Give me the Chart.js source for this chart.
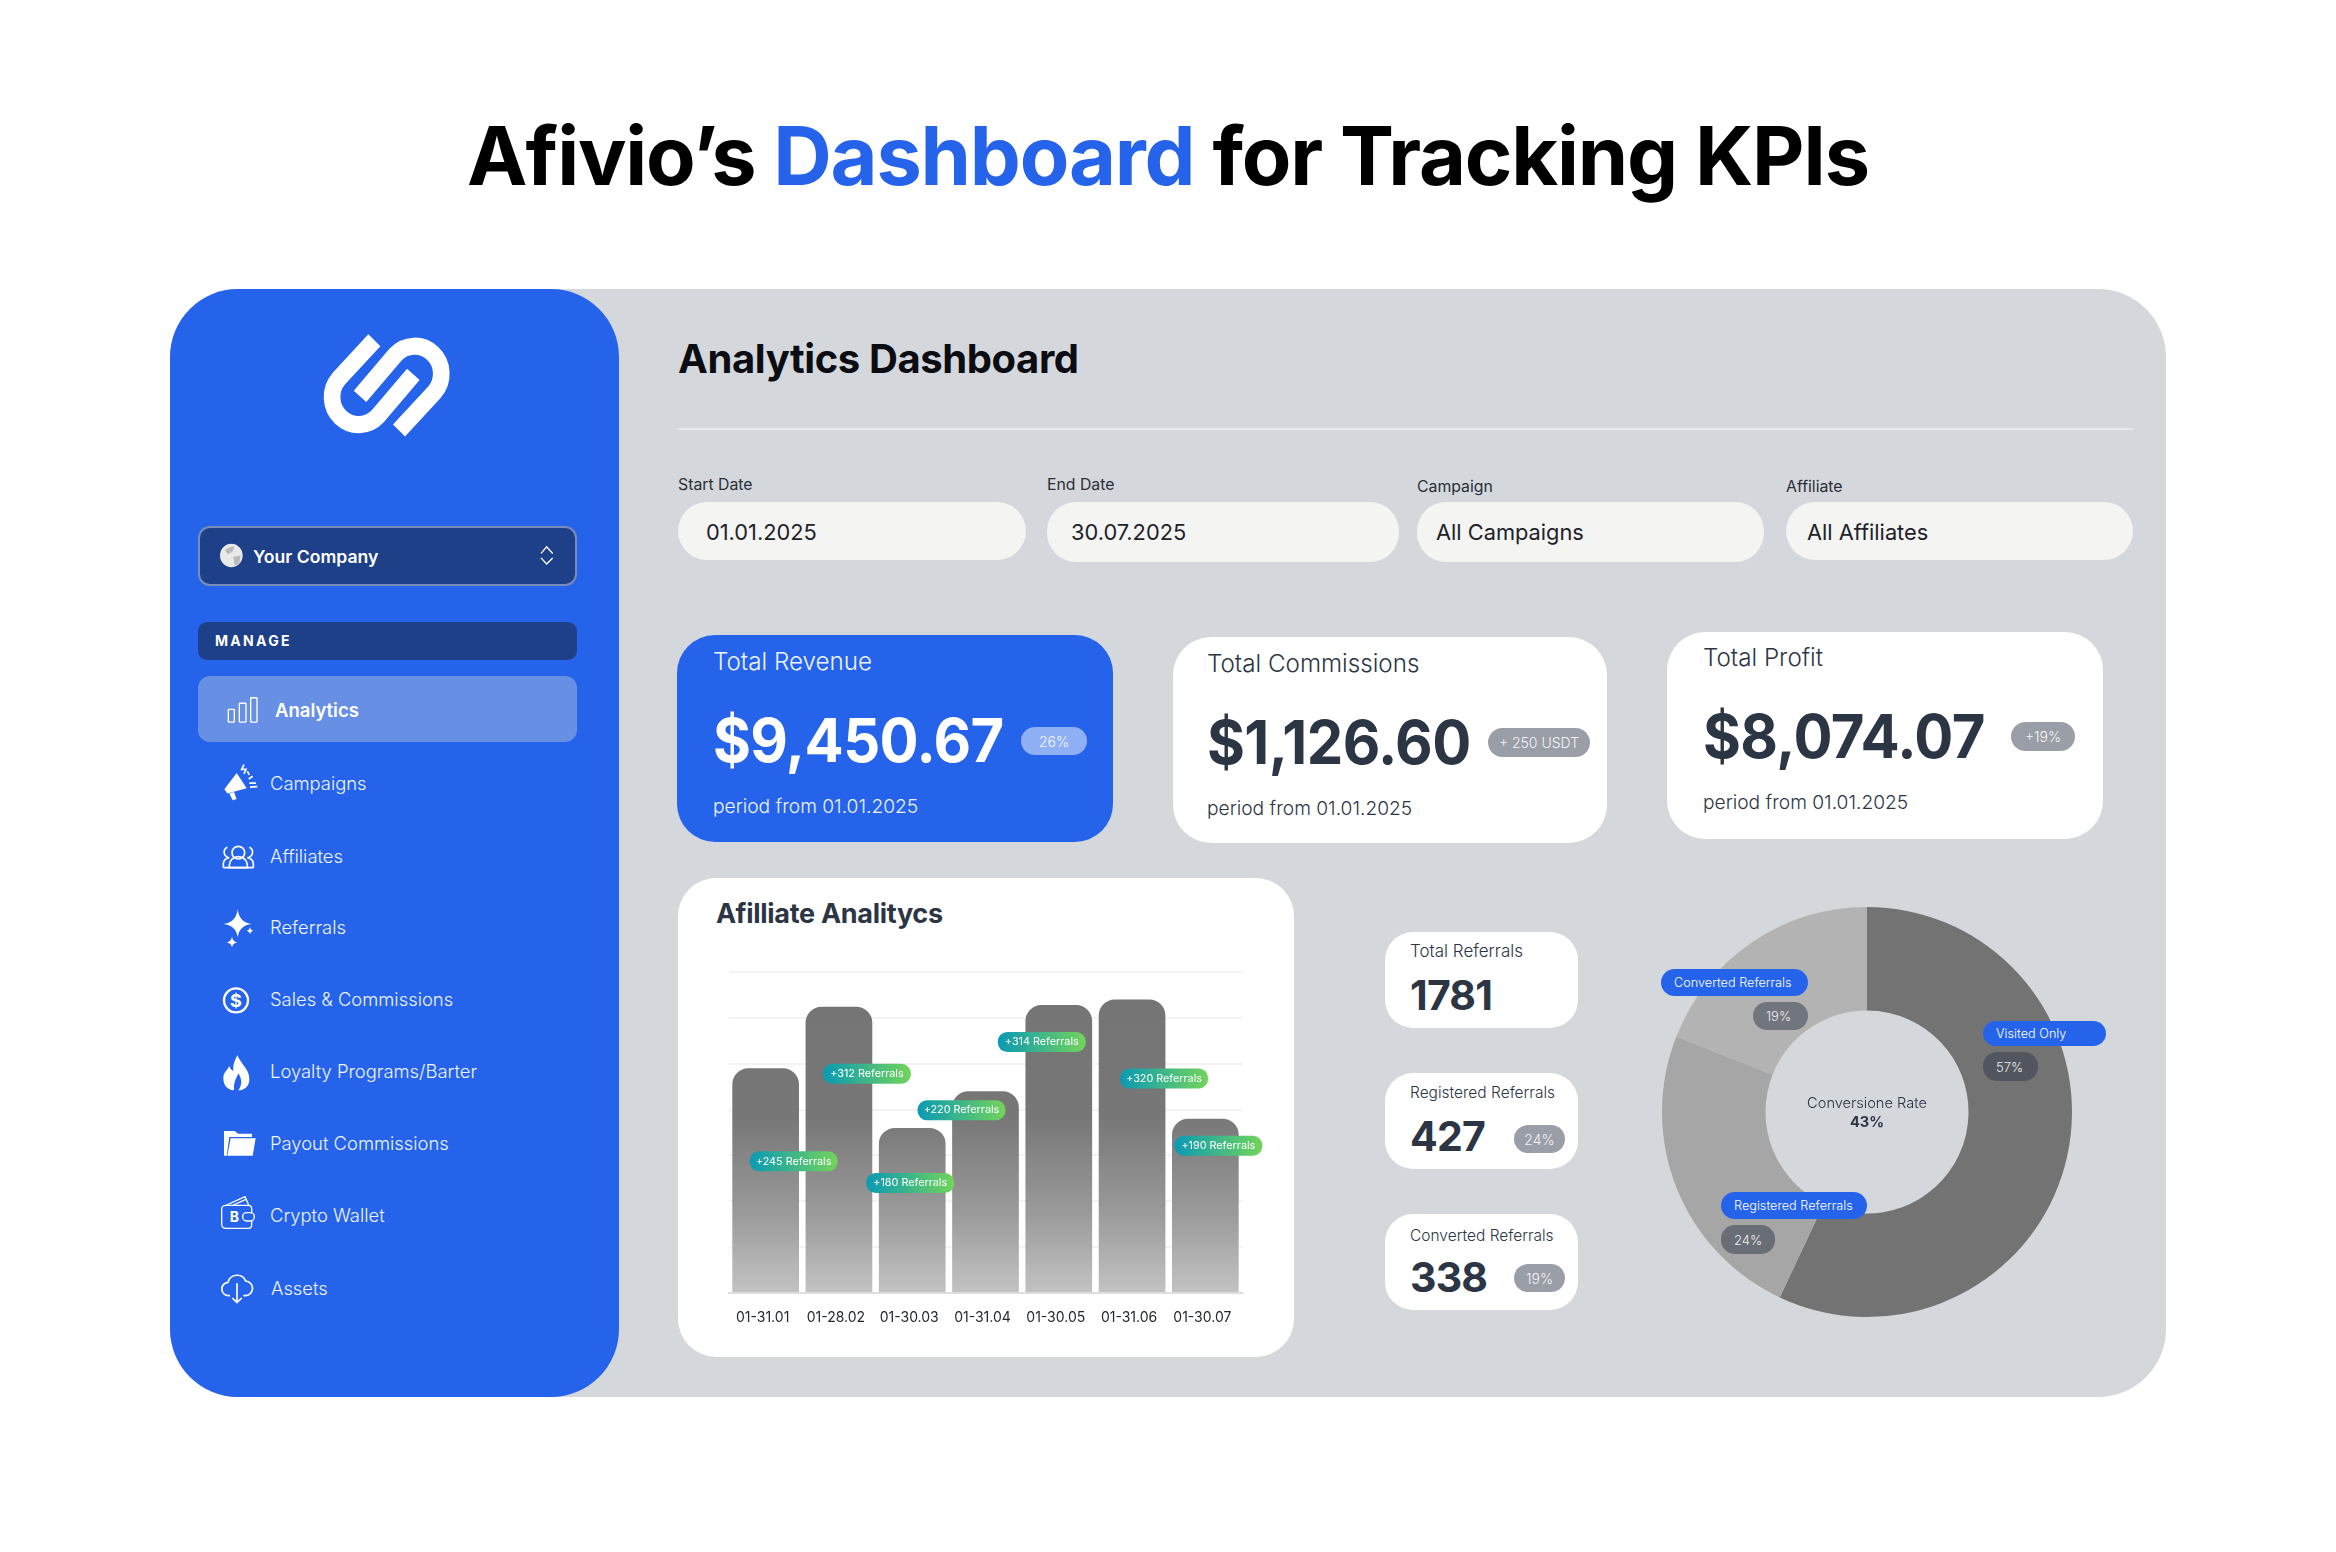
<!DOCTYPE html>
<html>
<head>
<meta charset="utf-8">
<title>Afivio Dashboard</title>
<script src="https://cdn.jsdelivr.net/npm/chart.js@4"></script>
<style>
html, body { margin: 0; padding: 0; background: #fff; }
body { position: relative; width: 2336px; height: 1552px; overflow: hidden; font-family: Inter, "Noto Sans", sans-serif; }
.box { position: absolute; box-sizing: border-box; }
.t { position: absolute; white-space: nowrap; transform: translateY(-50%); }
.c { transform: translate(-50%, -50%); }
h1 { position: absolute; left: 0; width: 2336px; top: 156px; margin: 0; transform: translateY(-50%); text-align: center; font-size: 81px; font-weight: 700; letter-spacing: -1.2px; color: #000; white-space: nowrap; }
h1 span { color: #2563eb; }
.nav { font-size: 18.4px; font-weight: 300; color: #eef3ff; left: 270px; }
.label { font-size: 15.8px; color: #2a2f38; }
.input { background: #f4f4f2; border-radius: 29px; }
.val { font-size: 21.8px; color: #1e2229; }
.card { background: #fff; border-radius: 38px; }
.blue { background: #2563eb; }
.ktitle { font-size: 24.2px; font-weight: 300; color: #2b3544; }
.amount { font-size: 61px; font-weight: 700; color: #2b3544; letter-spacing: -0.6px; transform: translateY(-50%) scaleX(.95); transform-origin: left center; }
.period { font-size: 19.2px; font-weight: 300; color: #2b3544; }
.badge { background: #9a9ea6; border-radius: 15px; color: #f3f4f6; font-size: 14px; font-weight: 300; display: flex; align-items: center; justify-content: center; white-space: nowrap; }
.mini { background: #fff; border-radius: 28px; }
.mlabel { font-size: 15.5px; font-weight: 300; color: #2b3544; left: 1410px; }
.mnum { font-size: 41px; font-weight: 700; color: #2b3544; left: 1410px; letter-spacing: -0.8px; }
.tag { background: #2563eb; border-radius: 14px; color: #fff; font-size: 12.7px; font-weight: 300; display: flex; align-items: center; padding-left: 13px; white-space: nowrap; z-index: 3; }
.pct { border-radius: 14px; color: #eceef1; font-size: 13px; font-weight: 300; display: flex; align-items: center; padding-left: 13px; z-index: 3; }
canvas { position: absolute; display: block; }
</style>
</head>
<body>
<h1>Afivio’s <span>Dashboard</span> for Tracking KPIs</h1>

<div class="box" style="left:170px;top:289px;width:1996px;height:1108px;background:#d4d7dc;border-radius:68px"></div>
<div class="box" style="left:170px;top:289px;width:449px;height:1108px;background:#2563eb;border-radius:68px"></div>

<div class="box" style="left:198px;top:526px;width:379px;height:60px;background:#1e4088;border:2px solid rgba(255,255,255,.4);border-radius:12px"></div>
<div class="t" style="left:253px;top:556px;font-size:17.6px;font-weight:600;color:#fff">Your Company</div>
<div class="box" style="left:198px;top:622px;width:379px;height:38px;background:#1e4088;border-radius:9px"></div>
<div class="t" style="left:215px;top:640px;font-size:14px;font-weight:700;letter-spacing:2.3px;color:#fff">MANAGE</div>
<div class="box" style="left:198px;top:676px;width:379px;height:66px;background:#6790e4;border-radius:12px"></div>
<div class="t" style="left:275px;top:710px;font-size:18.5px;font-weight:600;color:#fff">Analytics</div>
<div class="t nav" style="top:783px">Campaigns</div>
<div class="t nav" style="top:856px">Affiliates</div>
<div class="t nav" style="top:927px">Referrals</div>
<div class="t nav" style="top:999px">Sales &amp; Commissions</div>
<div class="t nav" style="top:1071px">Loyalty Programs/Barter</div>
<div class="t nav" style="top:1143px">Payout Commissions</div>
<div class="t nav" style="top:1215px">Crypto Wallet</div>
<div class="t nav" style="top:1288px;left:271px">Assets</div>

<!-- logo and sidebar icons, one svg unit = 1/3 px -->
<svg class="box" style="left:170px;top:290px" width="460" height="1040" viewBox="0 0 1380 3120">
  <g transform="scale(1 1.033)">
    <g fill="none" stroke="#fff" stroke-width="50">
      <path d="M613 146 L506 258 A80 80 0 0 0 624 366 L730 245"/>
      <path d="M687 408 L794 296 A80 80 0 0 0 676 188 L570 309"/>
    </g>
    <circle cx="184" cy="771" r="34" fill="#e9e9e9"/>
    <path d="M165 755 q14 -12 28 -10 l-6 16 l-14 6 z M190 775 l22 -4 l-4 22 l-14 8 z" fill="#b9b9b9"/>
    <g fill="none" stroke="#fff" stroke-width="4">
      <path d="M1113 765 L1130 746 L1148 765 M1113 778 L1130 796 L1148 778"/>
      <rect x="175" y="1218" width="18" height="37" rx="2"/>
      <rect x="208" y="1200" width="20" height="55" rx="2"/>
      <rect x="242" y="1184" width="19" height="71" rx="2"/>
    </g>
    <!-- megaphone -->
    <path d="M163 1450 L200 1403 L230 1447 L172 1462 Z M178 1462 L192 1458 L200 1478 L188 1482 Z" fill="#fff"/>
    <g stroke="#fff" stroke-width="5" fill="none">
      <path d="M222 1378 L215 1392 L228 1392 L222 1405 M232 1398 L238 1408 M236 1420 L248 1412 M238 1432 L258 1432 M240 1444 L262 1442"/>
    </g>
  </g>
  <g transform="translate(0 1620)">
    <!-- people -->
    <g fill="none" stroke="#fff" stroke-width="5">
      <circle cx="205" cy="68" r="19"/>
      <path d="M172 52 a16 16 0 0 0 2 30 M238 52 a16 16 0 0 1 -2 30"/>
      <path d="M178 113 v-8 a27 25 0 0 1 54 0 v8 z"/>
      <path d="M160 113 v-12 a20 18 0 0 1 18 -18 M250 113 v-12 a20 18 0 0 0 -18 -18 M160 113 h90"/>
    </g>
    <!-- stars -->
    <path d="M203 238 Q208 278 245 282 Q208 286 203 322 Q198 286 160 282 Q198 278 203 238 Z" fill="#fff"/>
    <path d="M240 290 Q241 300 250 302 Q241 304 240 312 Q239 304 230 302 Q239 300 240 290 Z" fill="#fff"/>
    <path d="M186 320 Q188 334 202 337 Q188 340 186 352 Q184 340 170 337 Q184 334 186 320 Z" fill="#fff"/>
    <!-- dollar -->
    <circle cx="198" cy="511" r="36" fill="none" stroke="#fff" stroke-width="7"/>
    <text x="198" y="530" text-anchor="middle" font-family="Inter" font-size="54" font-weight="700" fill="#fff">$</text>
    <!-- flame -->
    <path d="M202 676 C215 705 240 720 238 750 C237 770 222 781 205 781 C218 765 215 745 205 730 C200 745 190 755 192 781 C172 780 160 765 160 745 C160 725 172 722 178 708 C182 720 188 722 190 722 C188 705 195 690 202 676 Z" fill="#fff"/>
    <!-- folder -->
    <path d="M162 903 h32 l10 8 h42 v10 h-68 l-8 56 h-8 z" fill="#fff"/>
    <path d="M182 925 h75 l-9 52 h-76 z" fill="#fff"/>
    <!-- wallet -->
    <g fill="none" stroke="#fff" stroke-width="4">
      <path d="M245 1148 v-12 a10 10 0 0 0 -10 -10 h-68 a12 12 0 0 0 -12 12 v45 a12 12 0 0 0 12 12 h68 a10 10 0 0 0 10 -10 v-12"/>
      <rect x="218" y="1148" width="35" height="25" rx="12"/>
      <path d="M170 1125 L225 1100 L236 1125 M190 1125 L228 1108"/>
    </g>
    <text x="193" y="1176" text-anchor="middle" font-family="Inter" font-size="42" font-weight="700" fill="#fff">B</text>
    <!-- cloud -->
    <g fill="none" stroke="#fff" stroke-width="5">
      <path d="M180 1397 h-3 a20 20 0 0 1 -3 -40 a28 28 0 0 1 53 -4 a22 22 0 0 1 -3 44 h-4"/>
      <path d="M201 1360 V1418 M187 1404 L201 1418 L215 1404"/>
    </g>
  </g>
</svg>

<div class="t" style="left:678px;top:358px;font-size:40px;font-weight:700;color:#0b0d12;letter-spacing:-0.4px">Analytics Dashboard</div>
<div class="box" style="left:678px;top:428px;width:1455px;height:2px;background:#e7e9ec"></div>

<div class="t label" style="left:678px;top:484px">Start Date</div>
<div class="t label" style="left:1047px;top:484px">End Date</div>
<div class="t label" style="left:1417px;top:486px">Campaign</div>
<div class="t label" style="left:1786px;top:486px">Affiliate</div>
<div class="box input" style="left:678px;top:502px;width:348px;height:58px"></div>
<div class="box input" style="left:1047px;top:502px;width:352px;height:60px"></div>
<div class="box input" style="left:1417px;top:502px;width:347px;height:60px"></div>
<div class="box input" style="left:1786px;top:502px;width:347px;height:58px"></div>
<div class="t val" style="left:706px;top:532px">01.01.2025</div>
<div class="t val" style="left:1071px;top:532px">30.07.2025</div>
<div class="t val" style="left:1436px;top:532px">All Campaigns</div>
<div class="t val" style="left:1807px;top:532px">All Affiliates</div>

<!-- KPI cards -->
<div class="box card blue" style="left:677px;top:635px;width:436px;height:207px"></div>
<div class="box card" style="left:1173px;top:637px;width:434px;height:206px"></div>
<div class="box card" style="left:1667px;top:632px;width:436px;height:207px"></div>
<div class="t ktitle" style="left:713px;top:661px;color:#eef3ff">Total Revenue</div>
<div class="t ktitle" style="left:1207px;top:663px">Total Commissions</div>
<div class="t ktitle" style="left:1703px;top:657px">Total Profit</div>
<div class="t amount" style="left:713px;top:740px;color:#fff"></div>
<div class="t amount" style="left:1207px;top:742px"></div>
<div class="t amount" style="left:1703px;top:736px"></div>
<div class="box badge" style="left:1021px;top:727px;width:66px;height:28px;background:#8fb0f5"></div>
<div class="box badge" style="left:1488px;top:728px;width:102px;height:29px"></div>
<div class="box badge" style="left:2011px;top:722px;width:64px;height:29px"></div>
<div class="t period" style="left:713px;top:806px;color:#eef3ff">period from 01.01.2025</div>
<div class="t period" style="left:1207px;top:808px">period from 01.01.2025</div>
<div class="t period" style="left:1703px;top:802px">period from 01.01.2025</div>

<!-- bar chart card -->
<div class="box card" style="left:678px;top:878px;width:616px;height:479px"></div>
<div class="t" style="left:716px;top:913px;font-size:27px;font-weight:700;color:#2b3544;letter-spacing:-0.3px">Afilliate Analitycs</div>
<canvas id="barChart" width="616" height="479" style="left:678px;top:878px"></canvas>

<!-- mini cards -->
<div class="box mini" style="left:1385px;top:932px;width:193px;height:96px"></div>
<div class="box mini" style="left:1385px;top:1073px;width:193px;height:96px"></div>
<div class="box mini" style="left:1385px;top:1214px;width:193px;height:96px"></div>
<div class="t mlabel" style="top:951px;font-size:17px">Total Referrals</div>
<div class="t mlabel" style="top:1092px">Registered Referrals</div>
<div class="t mlabel" style="top:1235px">Converted Referrals</div>
<div class="t mnum" style="top:995px"></div>
<div class="t mnum" style="top:1136px"></div>
<div class="t mnum" style="top:1277px"></div>
<div class="box badge" id="regBadge" style="left:1514px;top:1125px;width:51px;height:28px"></div>
<div class="box badge" id="conBadge" style="left:1514px;top:1264px;width:51px;height:28px"></div>

<!-- donut -->
<canvas id="donutChart" width="416" height="416" style="left:1659px;top:904px"></canvas>
<div class="t c" style="left:1867px;top:1103px;font-size:14.6px;font-weight:300;color:#2b3544">Conversione Rate</div>
<div class="t c" style="left:1867px;top:1122px;font-size:14.6px;font-weight:700;color:#2b3544" id="rate"></div>
<div class="box tag" id="tag0" style="left:1983px;top:1021px;width:123px;height:25px"></div>
<div class="box pct" id="pct0" style="left:1983px;top:1052px;width:55px;height:29px;background:#52565e"></div>
<div class="box tag" id="tag1" style="left:1721px;top:1192px;width:146px;height:27px"></div>
<div class="box pct" id="pct1" style="left:1721px;top:1225px;width:54px;height:29px;background:#696d75"></div>
<div class="box tag" id="tag2" style="left:1661px;top:969px;width:147px;height:27px"></div>
<div class="box pct" id="pct2" style="left:1753px;top:1002px;width:55px;height:28px;background:#71757d"></div>

<script>
const periods = ['01-31.01', '01-28.02', '01-30.03', '01-31.04', '01-30.05', '01-31.06', '01-30.07'];
const referrals = [245, 312, 180, 220, 314, 320, 190];
const yTicks = [0, 50, 100, 150, 200, 250, 300, 350];

const funnelLabels = ['Visited Only', 'Registered Referrals', 'Converted Referrals'];
const funnelShare = [57, 24, 19];
const conversionRate = 43;

const kpiAmounts = ['$9,450.67', '$1,126.60', '$8,074.07'];
const kpiBadges = ['26%', '+ 250 USDT', '+19%'];
const referralCounts = [1781, 427, 338];

// fill the cards
document.querySelectorAll('.amount').forEach((el, i) => { el.textContent = kpiAmounts[i]; });
document.querySelectorAll('.badge').forEach((el, i) => {
    if (i < kpiBadges.length) el.textContent = kpiBadges[i];
});
document.querySelectorAll('.mnum').forEach((el, i) => { el.textContent = referralCounts[i]; });
document.getElementById('regBadge').textContent = funnelShare[1] + '%';
document.getElementById('conBadge').textContent = funnelShare[2] + '%';
document.getElementById('rate').textContent = conversionRate + '%';
funnelLabels.forEach((name, i) => {
    document.getElementById('tag' + i).textContent = name;
    document.getElementById('pct' + i).textContent = funnelShare[i] + '%';
});

Chart.defaults.font.family = 'Inter, "Noto Sans", sans-serif';
Chart.defaults.animation = false;

// pills are placed relative to the top centre of their bar
const pillShift = [[28, 93], [28, 67], [-2, 55], [-24, 19], [-17, 37], [32, 79], [13, 27]];

const referralPills = {
    id: 'referralPills',
    afterDatasetsDraw(chart) {
        const ctx = chart.ctx;
        chart.getDatasetMeta(0).data.forEach((bar, i) => {
            const cx = bar.x + pillShift[i][0], cy = bar.y + pillShift[i][1];
            const w = 88, h = 20;
            const grad = ctx.createLinearGradient(cx - w / 2, 0, cx + w / 2, 0);
            grad.addColorStop(0, '#0b9ab4');
            grad.addColorStop(1, '#72d45a');
            ctx.save();
            ctx.beginPath();
            ctx.roundRect(cx - w / 2, cy - h / 2, w, h, 9.5);
            ctx.fillStyle = grad;
            ctx.fill();
            ctx.fillStyle = '#fff';
            ctx.font = '400 10.8px Inter';
            ctx.textAlign = 'center';
            ctx.textBaseline = 'middle';
            ctx.fillText('+' + referrals[i] + ' Referrals', cx, cy);
            ctx.restore();
        });
    }
};

new Chart(document.getElementById('barChart'), {
    type: 'bar',
    data: {
        labels: periods,
        datasets: [{
            data: referrals,
            barPercentage: 0.91,
            categoryPercentage: 1,
            borderRadius: { topLeft: 16, topRight: 16 },
            borderSkipped: 'bottom',
            backgroundColor(context) {
                const area = context.chart.chartArea;
                if (!area) return '#767676';
                const grad = context.chart.ctx.createLinearGradient(0, area.top, 0, area.bottom);
                grad.addColorStop(0, '#747474');
                grad.addColorStop(0.45, '#777777');
                grad.addColorStop(0.75, '#9a9a9a');
                grad.addColorStop(1, '#c3c3c3');
                return grad;
            }
        }]
    },
    options: {
        responsive: false,
        layout: { padding: { left: 51, right: 52, top: 94, bottom: 0 } },
        plugins: { legend: { display: false }, tooltip: { enabled: false } },
        scales: {
            x: {
                grid: { display: false },
                border: { display: true, color: '#dddddd', width: 2 },
                ticks: { color: '#23272e', font: { size: 14 }, labelOffset: -3, padding: 8, maxRotation: 0 },
                afterFit(scale) { scale.height = 64; }
            },
            y: {
                min: yTicks[0],
                max: yTicks[yTicks.length - 1],
                afterBuildTicks(scale) { scale.ticks = yTicks.map(v => ({ value: v })); },
                grid: { color: '#f3f3f3', lineWidth: 2, drawTicks: false },
                border: { display: false },
                ticks: { display: false }
            }
        }
    },
    plugins: [referralPills]
});

new Chart(document.getElementById('donutChart'), {
    type: 'doughnut',
    data: {
        labels: funnelLabels,
        datasets: [{
            data: funnelShare,
            backgroundColor: ['#737373', '#a6a6a6', '#b3b3b3'],
            borderWidth: 0
        }]
    },
    options: {
        responsive: false,
        radius: 205,
        cutout: 103,
        plugins: { legend: { display: false }, tooltip: { enabled: false } }
    }
});
</script>
</body>
</html>
